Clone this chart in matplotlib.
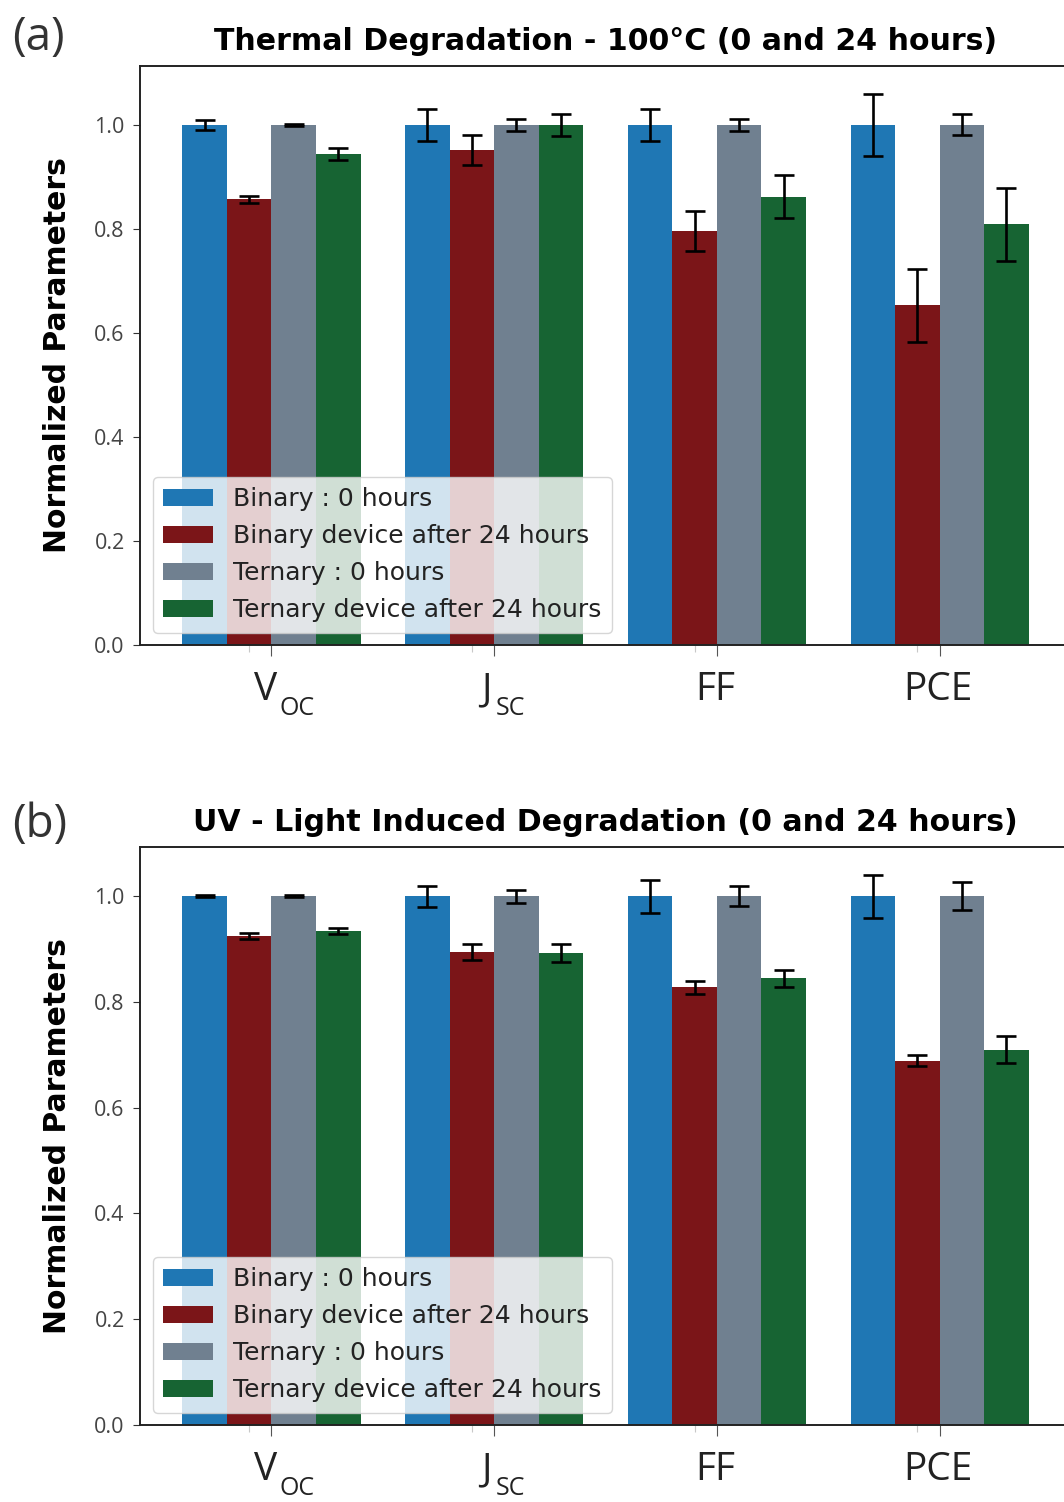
import matplotlib
matplotlib.use("Agg")
import matplotlib.pyplot as plt
import numpy as np

# Parameter groups: main symbol and subscript
category_main = ['V', 'J', 'FF', 'PCE']
category_sub = ['OC', 'SC', '', '']
series_labels = ['Binary : 0 hours', 'Binary device after 24 hours',
                 'Ternary : 0 hours', 'Ternary device after 24 hours']
series_colors = ['#1f77b4', '#7b1518', '#708090', '#176433']

# (a) Thermal degradation at 100 °C
thermal_binary_0 = [1.0, 1.0, 1.0, 1.0]
thermal_binary_0_err = [0.010, 0.031, 0.031, 0.060]
thermal_binary_24 = [0.857, 0.952, 0.796, 0.653]
thermal_binary_24_err = [0.007, 0.029, 0.039, 0.070]
thermal_ternary_0 = [1.0, 1.0, 1.0, 1.0]
thermal_ternary_0_err = [0.002, 0.011, 0.011, 0.020]
thermal_ternary_24 = [0.944, 1.0, 0.862, 0.809]
thermal_ternary_24_err = [0.011, 0.021, 0.041, 0.070]

# (b) UV light induced degradation
uv_binary_0 = [1.0, 1.0, 1.0, 1.0]
uv_binary_0_err = [0.002, 0.020, 0.031, 0.041]
uv_binary_24 = [0.925, 0.895, 0.828, 0.689]
uv_binary_24_err = [0.005, 0.015, 0.012, 0.010]
uv_ternary_0 = [1.0, 1.0, 1.0, 1.0]
uv_ternary_0_err = [0.002, 0.012, 0.019, 0.027]
uv_ternary_24 = [0.934, 0.893, 0.845, 0.710]
uv_ternary_24_err = [0.005, 0.017, 0.016, 0.025]

titles = ['Thermal Degradation - 100°C (0 and 24 hours)',
          'UV - Light Induced Degradation (0 and 24 hours)']
panel_tags = ['(a)', '(b)']

W, H = 1064, 1502
fig = plt.figure(figsize=(W / 100, H / 100), dpi=100)

ax_a = fig.add_axes([140 / W, (H - 645) / H, 931 / W, 579 / H])
ax_b = fig.add_axes([140 / W, (H - 1425) / H, 931 / W, 578 / H])

panels = [
    (ax_a,
     [thermal_binary_0, thermal_binary_24, thermal_ternary_0, thermal_ternary_24],
     [thermal_binary_0_err, thermal_binary_24_err, thermal_ternary_0_err, thermal_ternary_24_err]),
    (ax_b,
     [uv_binary_0, uv_binary_24, uv_ternary_0, uv_ternary_24],
     [uv_binary_0_err, uv_binary_24_err, uv_ternary_0_err, uv_ternary_24_err]),
]

width = 0.2
x = np.arange(len(category_main))
offsets = [-1.5 * width, -0.5 * width, 0.5 * width, 1.5 * width]

# horizontal placement (points) of the symbol and its subscript relative to the group centre
main_dx = [-12.2, -9.4, -1.5, -1.5]
main_ha = ['left', 'left', 'center', 'center']
sub_dx = [5.8, 1.4, 0, 0]

for i, (ax, vals, errs) in enumerate(panels):
    for v, e, off, col, lab in zip(vals, errs, offsets, series_colors, series_labels):
        ax.bar(x + off, v, width, yerr=e, color=col, label=lab,
               error_kw=dict(ecolor='black', elinewidth=1.9, capsize=7, capthick=1.9))
    ax.set_title(titles[i], fontsize=21.6, fontweight='bold', family='DejaVu Sans', pad=11.5)
    ax.set_ylabel('Normalized Parameters', fontsize=21.5, fontweight='bold',
                  family='DejaVu Sans', labelpad=16)
    ax.set_xticks(x)
    ax.set_xticklabels([''] * len(x))
    ax.set_xticks(x - 0.5 * width, minor=True)
    ax.tick_params(axis='x', which='major', length=8, width=0.8, color='#555555')
    ax.tick_params(axis='x', which='minor', length=5, width=0.8, color='#c8c8c8')
    for xi, m, s, mdx, ha, sdx in zip(x, category_main, category_sub, main_dx, main_ha, sub_dx):
        ax.annotate(m, xy=(xi, 0), xycoords=('data', 'axes fraction'),
                    xytext=(mdx, -39.6), textcoords='offset points',
                    ha=ha, va='baseline', family='Open Sans', fontsize=28,
                    color='#222222', annotation_clip=False)
        if s:
            ax.annotate(s, xy=(xi, 0), xycoords=('data', 'axes fraction'),
                        xytext=(sdx, -50.4), textcoords='offset points',
                        ha='left', va='baseline', family='Open Sans', fontsize=18,
                        color='#222222', annotation_clip=False)
    ax.set_yticks([0.0, 0.2, 0.4, 0.6, 0.8, 1.0])
    ax.set_yticklabels(['0.0', '0.2', '0.4', '0.6', '0.8', '1.0'],
                       family='Open Sans', fontsize=15.5, color='#444444')
    ax.tick_params(axis='y', length=5, width=0.8, color='#333333', pad=6)
    for sp in ax.spines.values():
        sp.set_linewidth(1.4)
        sp.set_color('#222222')
    leg = ax.legend(loc='lower left', prop={'family': 'DejaVu Sans', 'size': 18},
                    labelspacing=0.52, borderpad=0.42, handletextpad=0.8)
    for t in leg.get_texts():
        t.set_color('#222222')

fig.text(38 / W, 1 - 38 / H, panel_tags[0], family='Open Sans', fontsize=33,
         color='#333333', ha='center', va='center')
fig.text(40 / W, 1 - 825 / H, panel_tags[1], family='Open Sans', fontsize=33,
         color='#333333', ha='center', va='center')

fig.savefig('out.png', dpi=100)
